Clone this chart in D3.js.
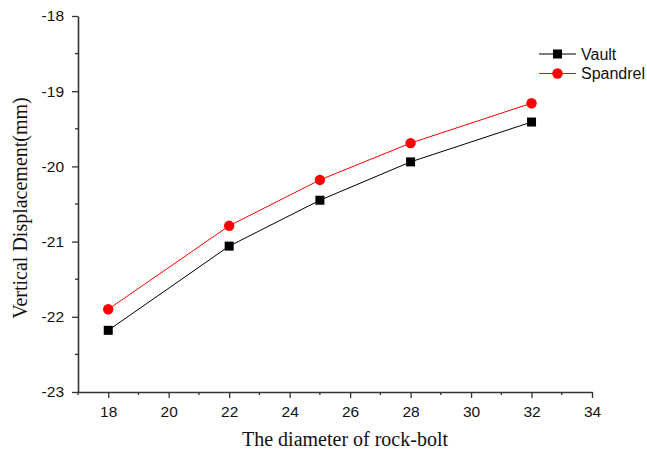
<!DOCTYPE html>
<html><head><meta charset="utf-8">
<script src="https://cdn.jsdelivr.net/npm/d3@7"></script>
<style>body{margin:0;background:#fff}</style>
</head><body>
<svg id="c" width="647" height="450"></svg>
<script>
const diameters = [18, 22, 25, 28, 32];
const vault = [-22.18, -21.06, -20.45, -19.94, -19.41];
const spandrel = [-21.90, -20.79, -20.18, -19.69, -19.16];
const seriesNames = ["Vault", "Spandrel"];
const xTicks = [18, 20, 22, 24, 26, 28, 30, 32, 34];
const yTicks = [-23, -22, -21, -20, -19, -18];

const svg = d3.select("#c");
const x = d3.scaleLinear().domain([17, 34]).range([78, 592]);
const y = d3.scaleLinear().domain([-23, -18]).range([392, 16]);
const axisColor = "#333";

// minor ticks
const g = svg.append("g");
const xMinor = d3.range(17, 34, 1).filter(v => v % 2 === 1);
g.selectAll(".xm").data(xMinor).enter().append("line")
  .attr("x1", d => x(d)).attr("x2", d => x(d)).attr("y1", 392).attr("y2", 395)
  .attr("stroke", axisColor).attr("stroke-width", 1.3);
const yMinor = d3.range(-22.5, -18, 1);
g.selectAll(".ym").data(yMinor).enter().append("line")
  .attr("y1", d => y(d)).attr("y2", d => y(d)).attr("x1", 78).attr("x2", 75)
  .attr("stroke", axisColor).attr("stroke-width", 1.3);

const xAxis = svg.append("g").attr("transform", "translate(0,392)")
  .call(d3.axisBottom(x).tickValues(xTicks).tickSize(6).tickSizeOuter(0).tickPadding(8));
const yAxis = svg.append("g").attr("transform", "translate(78,0)")
  .call(d3.axisLeft(y).tickValues(yTicks).tickSize(6).tickSizeOuter(0).tickPadding(8)
    .tickFormat(d => d3.format("d")(d).replace("−", "-")));
[xAxis, yAxis].forEach(a => {
  a.select(".domain").attr("stroke", axisColor).attr("stroke-width", 1.6);
  a.selectAll(".tick line").attr("stroke", axisColor).attr("stroke-width", 1.3);
  a.selectAll("text").attr("font-family", "Liberation Sans, Arial, sans-serif")
    .attr("font-size", 15.5).attr("fill", "#111");
});

svg.append("text").attr("x", 345).attr("y", 446).attr("text-anchor", "middle")
  .attr("font-family", "Liberation Serif, Times New Roman, serif").attr("font-size", 20)
  .attr("fill", "#111").text("The diameter of rock-bolt");
svg.append("text").attr("transform", "translate(27,208) rotate(-90)").attr("text-anchor", "middle")
  .attr("font-family", "Liberation Serif, Times New Roman, serif").attr("font-size", 20)
  .attr("fill", "#111").text("Vertical Displacement(mm)");

const line = d3.line().x(d => x(d[0])).y(d => y(d[1]));
const vData = diameters.map((d, i) => [d, vault[i]]);
const sData = diameters.map((d, i) => [d, spandrel[i]]);

svg.append("path").datum(vData).attr("d", line).attr("fill", "none").attr("stroke", "#000").attr("stroke-width", 1);
svg.append("path").datum(sData).attr("d", line).attr("fill", "none").attr("stroke", "#ff0000").attr("stroke-width", 1);
svg.selectAll(".sq").data(vData).enter().append("rect")
  .attr("x", d => x(d[0]) - 4.5).attr("y", d => y(d[1]) - 4.5).attr("width", 9).attr("height", 9).attr("fill", "#000");
svg.selectAll(".ci").data(sData).enter().append("circle")
  .attr("cx", d => x(d[0])).attr("cy", d => y(d[1])).attr("r", 5.2).attr("fill", "#ff0000");

// legend
const lg = svg.append("g");
const colors = ["#000", "#ff0000"];
seriesNames.forEach((n, i) => {
  const yy = 54 + i * 19.5;
  lg.append("line").attr("x1", 539).attr("x2", 576).attr("y1", yy).attr("y2", yy)
    .attr("stroke", colors[i]).attr("stroke-width", 1);
  if (i === 0) lg.append("rect").attr("x", 557.5 - 4.5).attr("y", yy - 4.5).attr("width", 9).attr("height", 9).attr("fill", colors[i]);
  else lg.append("circle").attr("cx", 557.5).attr("cy", yy).attr("r", 5.2).attr("fill", colors[i]);
  lg.append("text").attr("x", 581).attr("y", yy + 5.5).attr("font-family", "Liberation Sans, Arial, sans-serif")
    .attr("font-size", 16).attr("fill", "#111").text(n);
});
</script>
</body></html>
